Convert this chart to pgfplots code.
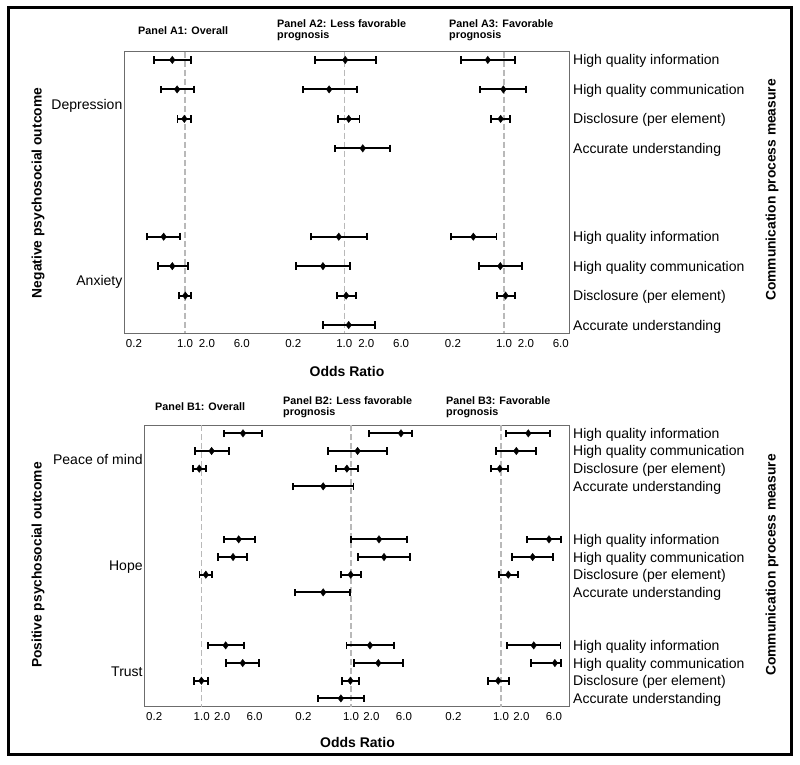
\documentclass[border=0pt]{standalone}
\usepackage{fontspec}
\setmainfont{Liberation Sans}
\usepackage{pgfplots}
\pgfplotsset{compat=1.18}
\usepackage{pgfplotstable}

% Section A: negative outcomes (rows 0-3 Depression, 6-9 Anxiety)
\pgfplotstableread{
row or lo hi
0 0.67 0.38 1.20
1 0.78 0.47 1.32
2 0.98 0.79 1.21
6 0.51 0.30 0.86
7 0.67 0.43 1.09
8 1.01 0.83 1.22
}\tabAone
\pgfplotstableread{
row or lo hi
0 1.03 0.40 2.69
1 0.62 0.27 1.48
2 1.15 0.81 1.62
3 1.79 0.75 4.23
6 0.84 0.35 2.07
7 0.51 0.22 1.19
8 1.06 0.79 1.45
9 1.15 0.51 2.61
}\tabAtwo
\pgfplotstableread{
row or lo hi
0 0.60 0.26 1.41
1 0.98 0.47 2.00
2 0.90 0.67 1.21
6 0.38 0.19 0.79
7 0.89 0.46 1.75
8 1.05 0.80 1.40
}\tabAthree
% Section B: positive outcomes (rows 0-3 Peace of mind, 6-9 Hope, 12-15 Trust)
\pgfplotstableread{
row or lo hi
0 4.05 2.13 7.70
1 1.40 0.79 2.50
2 0.92 0.74 1.16
6 3.50 2.13 6.10
7 2.89 1.72 4.69
8 1.15 0.93 1.42
12 2.25 1.24 4.15
13 4.01 2.30 6.96
14 0.99 0.77 1.24
}\tabBone
\pgfplotstableread{
row or lo hi
0 5.43 1.86 7.80
1 1.25 0.46 3.42
2 0.87 0.60 1.28
3 0.39 0.14 1.09
6 2.58 1.01 6.70
7 3.06 1.28 7.45
8 0.99 0.71 1.40
9 0.39 0.15 0.97
12 1.90 0.86 4.29
13 2.52 1.12 5.76
14 0.98 0.73 1.32
15 0.71 0.33 1.55
}\tabBtwo
\pgfplotstableread{
row or lo hi
0 2.52 1.18 5.30
1 1.68 0.85 3.30
2 0.96 0.71 1.28
6 5.08 2.41 7.60
7 2.92 1.47 5.88
8 1.28 0.94 1.76
12 3.03 1.21 7.50
13 6.20 2.73 7.60
14 0.91 0.64 1.31
}\tabBthree

\newcommand\rlfont{\fontsize{14}{16}\selectfont}
\newcommand\ttlfont{\bfseries\fontsize{10.8}{11}\selectfont}
\newcommand\rl[2]{\node[anchor=base west,inner sep=0pt,font=\rlfont,xshift=4pt,yshift=-5pt] at (axis cs:1,#1) {#2};}
\newcommand\gl[2]{\node[anchor=base east,inner sep=0pt,font=\rlfont,xshift=-1.5pt,yshift=-5pt] at (axis cs:0,#1) {#2};}

\pgfplotsset{
  mypanel/.style={scale only axis, xmin=0.1, xmax=10, y dir=reverse,
    axis line style={draw=none}, major tick length=0pt, minor tick length=0pt,
    ytick=\empty, xtick={0.2,1,2,6}, xticklabels={0.2,1.0,2.0,6.0}, xminorticks=false,
    xticklabel style={font=\fontsize{11.5}{12}\selectfont, anchor=center, yshift=-10pt},
    clip=false},
  mypanelA/.style={mypanel, width=146pt, height=281.6pt, ymin=-0.28, ymax=9.28},
  mypanelB/.style={mypanel, width=136pt, height=281.7pt, ymin=-0.47, ymax=15.47},
  myframe/.style={scale only axis, xmin=0, xmax=1, y dir=reverse,
    axis line style={draw=gray!85!black, line width=1pt},
    xtick=\empty, ytick=\empty, clip=false},
  myest/.style={black, only marks, mark=diamond*, mark size=3.7pt,
    error bars/.cd, x dir=both, x explicit, error mark=|,
    error bar style={line width=2pt, black},
    error mark options={line width=1.8pt, mark size=3.8pt, black}},
  myref/.style={gray!55, line width=1.3pt, dash pattern=on 6pt off 3pt},
}
\newcommand\ciplot[1]{\addplot[myest] table[x=or, y=row, x error plus expr=\thisrow{hi}-\thisrow{or}, x error minus expr=\thisrow{or}-\thisrow{lo}] {#1};}

\begin{document}
\begin{tikzpicture}[x=1pt,y=1pt]
\path[use as bounding box] (0,0) rectangle (800,764);
\draw[line width=3pt] (8,10) rectangle (791,756.5);

% ---------------- Section A ----------------
\begin{axis}[myframe, at={(124pt,430.7pt)}, anchor=south west, width=445pt, height=281.6pt, ymin=-0.28, ymax=9.28]
\rl{0}{High quality information}
\rl{1}{High quality communication}
\rl{2}{Disclosure (per element)}
\rl{3}{Accurate understanding}
\rl{6}{High quality information}
\rl{7}{High quality communication}
\rl{8}{Disclosure (per element)}
\rl{9}{Accurate understanding}
\gl{1.5}{Depression}
\gl{7.5}{Anxiety}
\end{axis}

\begin{axis}[xmode=log, mypanelA, at={(112pt,430.7pt)}, anchor=south west]
\addplot[myref] coordinates {(1,-0.28) (1,9.28)};
\ciplot{\tabAone}
\end{axis}
\begin{axis}[xmode=log, mypanelA, at={(271.3pt,430.7pt)}, anchor=south west]
\addplot[myref] coordinates {(1,-0.28) (1,9.28)};
\ciplot{\tabAtwo}
\end{axis}
\begin{axis}[xmode=log, mypanelA, at={(431pt,430.7pt)}, anchor=south west]
\addplot[myref] coordinates {(1,-0.28) (1,9.28)};
\ciplot{\tabAthree}
\end{axis}

\node[anchor=west, font=\ttlfont, align=left, inner sep=0pt] at (138,733.3) {Panel A1: Overall};
\node[anchor=west, font=\ttlfont, align=left, inner sep=0pt] at (277,733.3) {Panel A2: Less favorable\\prognosis};
\node[anchor=west, font=\ttlfont, align=left, inner sep=0pt] at (449,733.3) {Panel A3: Favorable\\prognosis};
\node[font=\bfseries\fontsize{14}{16}\selectfont] at (347,392.5) {Odds Ratio};
\node[rotate=90, font=\bfseries\fontsize{13.8}{16}\selectfont] at (38,571) {Negative psychosocial outcome};
\node[rotate=90, font=\bfseries\fontsize{13.8}{16}\selectfont] at (772,574) {Communication process measure};

% ---------------- Section B ----------------
\begin{axis}[myframe, at={(144.3pt,57.3pt)}, anchor=south west, width=424.7pt, height=281.7pt, ymin=-0.47, ymax=15.47]
\rl{0}{High quality information}
\rl{1}{High quality communication}
\rl{2}{Disclosure (per element)}
\rl{3}{Accurate understanding}
\rl{6}{High quality information}
\rl{7}{High quality communication}
\rl{8}{Disclosure (per element)}
\rl{9}{Accurate understanding}
\rl{12}{High quality information}
\rl{13}{High quality communication}
\rl{14}{Disclosure (per element)}
\rl{15}{Accurate understanding}
\gl{1.5}{Peace of mind}
\gl{7.5}{Hope}
\gl{13.5}{Trust}
\end{axis}

\begin{axis}[xmode=log, mypanelB, at={(133.7pt,57.3pt)}, anchor=south west]
\addplot[myref] coordinates {(1,-0.47) (1,15.47)};
\ciplot{\tabBone}
\end{axis}
\begin{axis}[xmode=log, mypanelB, at={(283pt,57.3pt)}, anchor=south west]
\addplot[myref] coordinates {(1,-0.47) (1,15.47)};
\ciplot{\tabBtwo}
\end{axis}
\begin{axis}[xmode=log, mypanelB, at={(433pt,57.3pt)}, anchor=south west]
\addplot[myref] coordinates {(1,-0.47) (1,15.47)};
\ciplot{\tabBthree}
\end{axis}

\node[anchor=west, font=\ttlfont, align=left, inner sep=0pt] at (155,357) {Panel B1: Overall};
\node[anchor=west, font=\ttlfont, align=left, inner sep=0pt] at (283,356.8) {Panel B2: Less favorable\\prognosis};
\node[anchor=west, font=\ttlfont, align=left, inner sep=0pt] at (446,356.8) {Panel B3: Favorable\\prognosis};
\node[font=\bfseries\fontsize{14}{16}\selectfont] at (357.5,22) {Odds Ratio};
\node[rotate=90, font=\bfseries\fontsize{13.8}{16}\selectfont] at (38,199) {Positive psychosocial outcome};
\node[rotate=90, font=\bfseries\fontsize{13.8}{16}\selectfont] at (772,199) {Communication process measure};
\end{tikzpicture}
\end{document}
